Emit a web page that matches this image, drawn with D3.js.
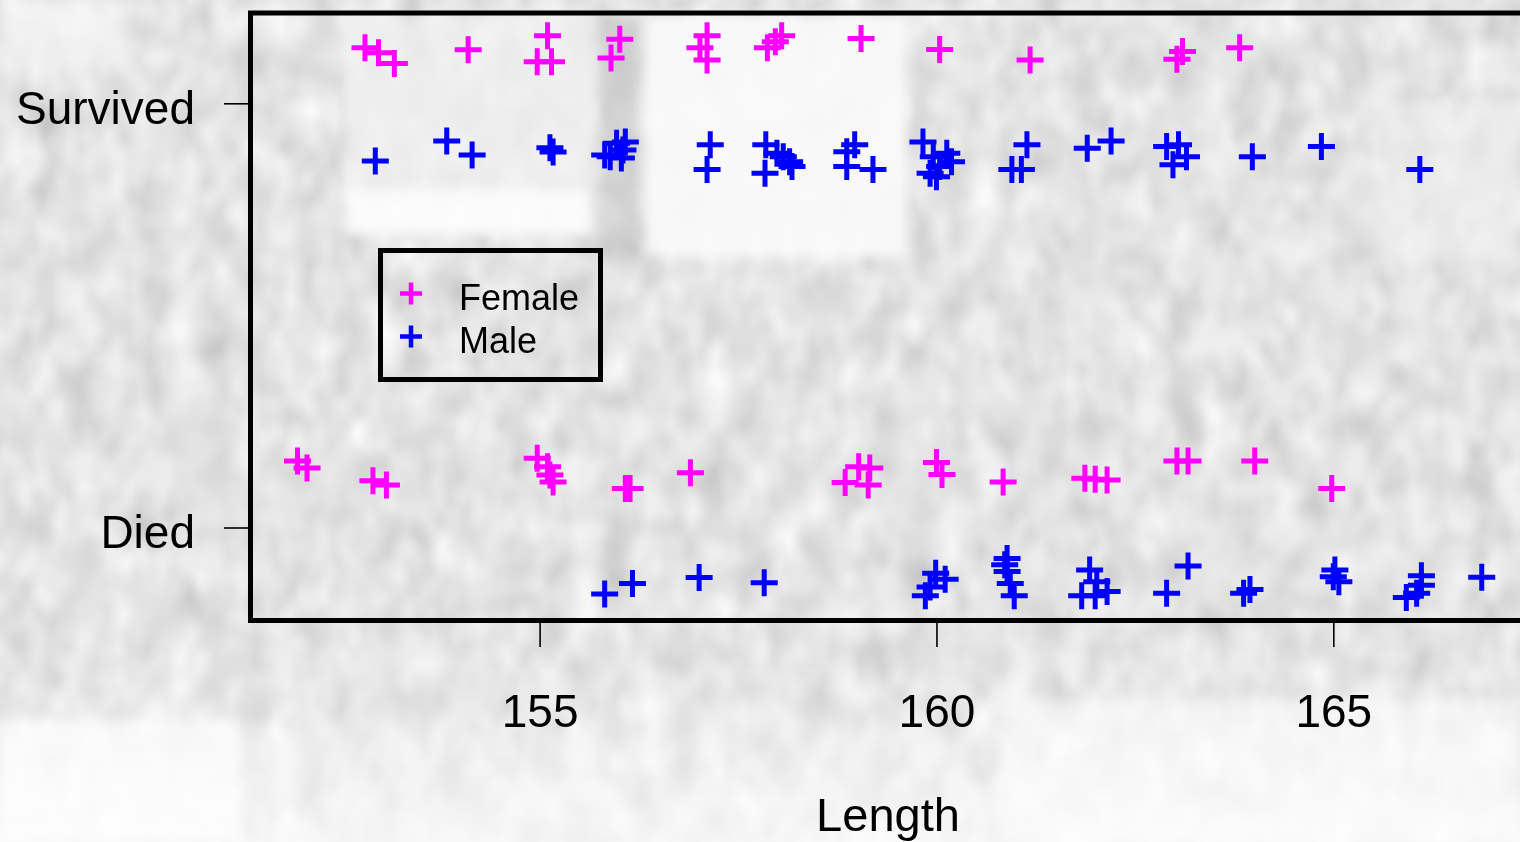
<!DOCTYPE html>
<html>
<head>
<meta charset="utf-8">
<script src="https://cdn.jsdelivr.net/npm/d3@7"></script>
<style>
  html, body { margin: 0; padding: 0; background: #fff; }
  svg { display: block; font-family: "Liberation Sans", Arial, sans-serif; }
</style>
</head>
<body>
<div id="chart"></div>
<script>
// categories on the y axis (1 = Died, 2 = Survived)
const groups = ['Died', 'Survived'];
const xTicks = [155, 160, 165];
const seriesNames = ['Female', 'Male'];
const seriesColors = ['#ff00ff', '#0000ff'];

// [length, jittered group position]
const femaleSurvived = [
  [152.80, 2.131], [152.97, 2.119], [153.17, 2.094], [154.10, 2.126], [155.10, 2.159],
  [154.97, 2.098], [155.15, 2.098], [156.01, 2.151], [155.90, 2.107], [157.11, 2.159],
  [157.02, 2.131], [157.11, 2.102], [158.05, 2.159], [157.97, 2.145], [157.87, 2.131],
  [159.05, 2.153], [160.04, 2.127], [161.18, 2.102], [163.10, 2.122], [163.03, 2.104],
  [163.82, 2.131]
];
const maleSurvived = [
  [152.93, 1.864], [153.83, 1.911], [154.15, 1.878], [155.13, 1.895], [155.17, 1.885],
  [155.82, 1.878], [155.97, 1.906], [156.08, 1.909], [156.05, 1.890], [156.03, 1.871],
  [155.89, 1.874], [157.15, 1.902], [157.11, 1.844], [157.85, 1.902], [157.84, 1.835],
  [157.99, 1.882], [158.15, 1.862], [158.07, 1.874], [158.18, 1.851], [158.87, 1.886],
  [158.97, 1.902], [159.20, 1.844], [158.87, 1.851], [159.83, 1.909], [159.96, 1.874],
  [160.13, 1.882], [160.04, 1.851], [159.92, 1.835], [160.19, 1.862], [160.00, 1.827],
  [161.14, 1.902], [161.07, 1.844], [160.95, 1.844], [161.90, 1.894], [162.20, 1.911],
  [162.90, 1.898], [163.05, 1.902], [163.15, 1.874], [162.98, 1.855], [163.98, 1.874],
  [164.85, 1.898], [166.09, 1.844]
];
const femaleDied = [
  [151.95, 1.157], [152.07, 1.140], [152.90, 1.110], [153.07, 1.100], [154.97, 1.163],
  [155.10, 1.143], [155.13, 1.124], [155.17, 1.107], [156.14, 1.092], [156.08, 1.092],
  [156.90, 1.129], [159.02, 1.143], [158.85, 1.106], [159.16, 1.140], [159.14, 1.100],
  [160.00, 1.153], [160.07, 1.125], [160.84, 1.107], [161.87, 1.116], [162.00, 1.114],
  [162.15, 1.112], [163.03, 1.157], [163.17, 1.157], [164.01, 1.157], [164.98, 1.092]
];
const maleDied = [
  [155.82, 0.843], [156.17, 0.868], [157.01, 0.882], [157.83, 0.870], [159.99, 0.892],
  [160.11, 0.878], [159.86, 0.839], [159.92, 0.860], [160.89, 0.927], [160.86, 0.912],
  [160.89, 0.896], [160.93, 0.868], [160.98, 0.839], [161.93, 0.900], [162.02, 0.872],
  [161.83, 0.839], [162.00, 0.839], [162.15, 0.849], [163.17, 0.909], [162.90, 0.845],
  [163.95, 0.854], [163.87, 0.845], [165.02, 0.900], [165.07, 0.872], [165.00, 0.884],
  [166.11, 0.886], [166.11, 0.864], [165.92, 0.835], [166.05, 0.845], [166.87, 0.883]
];

const W = 1520, H = 842;
const svg = d3.select('#chart').append('svg')
  .attr('width', W).attr('height', H);

const x = d3.scaleLinear().domain([155, 165]).range([539.6, 1333.3]);
const y = d3.scaleLinear().domain([1, 2]).range([527.5, 103.3]);

const plot = {left: 250.5, top: 13, right: 1540, bottom: 620.5};

// --- background: grey, grainy photo look ---
const defs = svg.append('defs');
const noise = defs.append('filter').attr('id', 'grain')
  .attr('x', 0).attr('y', 0).attr('width', '100%').attr('height', '100%');
noise.append('feTurbulence').attr('type', 'fractalNoise')
  .attr('baseFrequency', '0.03 0.022').attr('numOctaves', 2).attr('seed', 7);
noise.append('feColorMatrix').attr('type', 'matrix')
  .attr('values', '0.33 0.33 0.33 0 0  0.33 0.33 0.33 0 0  0.33 0.33 0.33 0 0  0 0 0 0 1');
const ct = noise.append('feComponentTransfer');
['feFuncR', 'feFuncG', 'feFuncB'].forEach(f =>
  ct.append(f).attr('type', 'linear').attr('slope', 0.75).attr('intercept', 0.40));

defs.append('filter').attr('id', 'soft')
  .append('feGaussianBlur').attr('stdDeviation', 6);

const fade = defs.append('linearGradient').attr('id', 'fade')
  .attr('x1', 0).attr('y1', 0).attr('x2', 0).attr('y2', 1);
fade.append('stop').attr('offset', 0).attr('stop-color', '#fff').attr('stop-opacity', 0);
fade.append('stop').attr('offset', 1).attr('stop-color', '#fff').attr('stop-opacity', 0.7);

const bg = svg.append('g');
bg.append('rect').attr('width', W).attr('height', H).attr('filter', 'url(#grain)');
const light = bg.append('g').attr('filter', 'url(#soft)');
light.append('rect').attr('x', 345).attr('y', 15).attr('width', 250).attr('height', 220)
  .attr('fill', '#f2f2f2').attr('opacity', 0.7);
light.append('rect').attr('x', 345).attr('y', 190).attr('width', 245).attr('height', 45)
  .attr('fill', '#fff').attr('opacity', 0.75);
light.append('rect').attr('x', 645).attr('y', 15).attr('width', 262).attr('height', 242)
  .attr('fill', '#fafafa').attr('opacity', 0.92);
light.append('rect').attr('x', 600).attr('y', 15).attr('width', 38).attr('height', 240)
  .attr('fill', '#bcbcbc').attr('opacity', 0.5);
light.append('rect').attr('x', 0).attr('y', 0).attr('width', 130).attr('height', 70)
  .attr('fill', '#fafafa').attr('opacity', 0.55);
light.append('rect').attr('x', 1380).attr('y', 100).attr('width', 140).attr('height', 160)
  .attr('fill', '#f4f4f4').attr('opacity', 0.5);
light.append('rect').attr('x', 0).attr('y', 720).attr('width', 240).attr('height', 122)
  .attr('fill', '#fff').attr('opacity', 0.7);
light.append('rect').attr('x', 1000).attr('y', 700).attr('width', 520).attr('height', 142)
  .attr('fill', '#fff').attr('opacity', 0.5);
bg.append('rect').attr('x', 0).attr('y', 640).attr('width', W).attr('height', H - 640)
  .attr('fill', 'url(#fade)');

// --- points ---
const cross = s => `M${-s},0H${s}M0,${-s}V${s}`;
const layers = [
  {data: femaleSurvived, color: seriesColors[0]},
  {data: maleSurvived, color: seriesColors[1]},
  {data: femaleDied, color: seriesColors[0]},
  {data: maleDied, color: seriesColors[1]}
];
const pts = svg.append('g');
layers.forEach(l => {
  pts.append('g').selectAll('path')
    .data(l.data)
    .join('path')
      .attr('d', cross(13.5))
      .attr('transform', d => `translate(${x(d[0])},${y(d[1])})`)
      .attr('stroke', l.color)
      .attr('stroke-width', 5)
      .attr('fill', 'none');
});

// --- box ---
svg.append('rect')
  .attr('x', plot.left).attr('y', plot.top)
  .attr('width', plot.right - plot.left).attr('height', plot.bottom - plot.top)
  .attr('fill', 'none').attr('stroke', '#000').attr('stroke-width', 5);

// --- axes ---
const xAxis = svg.append('g')
  .attr('transform', `translate(0,${plot.bottom + 2.5})`)
  .call(d3.axisBottom(x).tickValues(xTicks).tickSize(24).tickFormat(d3.format('d')));
xAxis.select('.domain').remove();
xAxis.selectAll('.tick line').attr('stroke', '#000').attr('stroke-width', 1.6);
xAxis.selectAll('.tick text')
  .attr('dy', null).attr('y', 104)
  .attr('fill', '#000').attr('font-size', 46)
  .attr('font-family', '"Liberation Sans", Arial, sans-serif');

const yAxis = svg.append('g')
  .attr('transform', `translate(${plot.left - 2.5},0)`)
  .call(d3.axisLeft(y).tickValues([1, 2]).tickSize(24).tickFormat(d => groups[d - 1]));
yAxis.select('.domain').remove();
yAxis.selectAll('.tick line').attr('stroke', '#000').attr('stroke-width', 1.6);
yAxis.selectAll('.tick text')
  .attr('dy', null).attr('y', 20).attr('x', -53)
  .attr('fill', '#000').attr('font-size', 46)
  .attr('font-family', '"Liberation Sans", Arial, sans-serif');

svg.append('text')
  .attr('x', 888).attr('y', 831)
  .attr('text-anchor', 'middle')
  .attr('font-size', 47)
  .text('Length');

// --- legend ---
const legend = svg.append('g');
legend.append('rect')
  .attr('x', 380.5).attr('y', 250.5).attr('width', 220).attr('height', 129)
  .attr('fill', 'none').attr('stroke', '#000').attr('stroke-width', 5);
const ly = d3.scalePoint().domain(seriesNames).range([293.5, 336.5]);
seriesNames.forEach((name, i) => {
  legend.append('path')
    .attr('d', cross(11))
    .attr('transform', `translate(411,${ly(name)})`)
    .attr('stroke', seriesColors[i]).attr('stroke-width', 4.5).attr('fill', 'none');
  legend.append('text')
    .attr('x', 459).attr('y', ly(name) + 16.5)
    .attr('font-size', 36)
    .text(name);
});
</script>
</body>
</html>
